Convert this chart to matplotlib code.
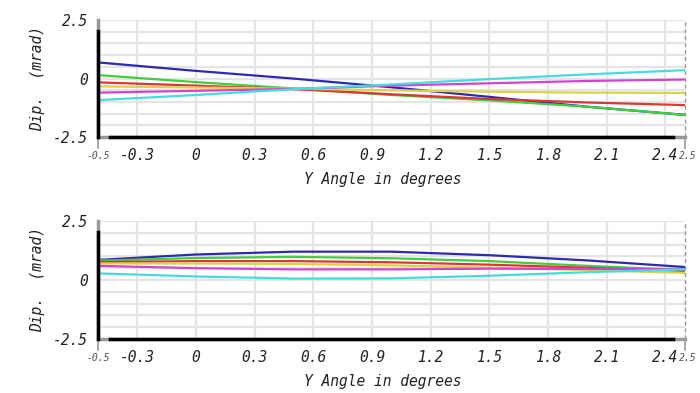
import matplotlib
matplotlib.use("Agg")
import matplotlib.pyplot as plt

x = [-0.5, 0.0, 0.5, 1.0, 1.5, 2.0, 2.5]

top_blue = [0.69, 0.33, 0.0, -0.37, -0.78, -1.2, -1.55]
top_green = [0.15, -0.15, -0.42, -0.7, -0.93, -1.2, -1.55]
top_red = [-0.16, -0.3, -0.45, -0.67, -0.87, -1.02, -1.13]
top_yellow = [-0.33, -0.38, -0.43, -0.5, -0.56, -0.6, -0.61]
top_magenta = [-0.6, -0.52, -0.44, -0.3, -0.2, -0.1, -0.04]
top_cyan = [-0.92, -0.7, -0.45, -0.25, -0.02, 0.18, 0.36]

bot_blue = [0.85, 1.08, 1.2, 1.2, 1.05, 0.83, 0.55]
bot_green = [0.82, 0.93, 0.98, 0.92, 0.8, 0.6, 0.42]
bot_red = [0.76, 0.8, 0.8, 0.75, 0.65, 0.52, 0.38]
bot_yellow = [0.7, 0.7, 0.68, 0.62, 0.52, 0.42, 0.3]
bot_magenta = [0.6, 0.5, 0.45, 0.45, 0.48, 0.47, 0.45]
bot_cyan = [0.28, 0.15, 0.06, 0.07, 0.18, 0.33, 0.45]

xticks = [-0.3, 0, 0.3, 0.6, 0.9, 1.2, 1.5, 1.8, 2.1, 2.4]
xtick_labels = ["-0.3", "0", "0.3", "0.6", "0.9", "1.2", "1.5", "1.8", "2.1", "2.4"]
yticks = [-2.5, 0, 2.5]
ytick_labels = ["-2.5", "0", "2.5"]
xlim = (-0.5, 2.5)
ylim = (-2.5, 2.5)

colors = ["#2b2bb0", "#3fcf3f", "#dd3535", "#d9d24a", "#d045d0", "#45dcdc"]
font = "DejaVu Sans Mono"

fig = plt.figure(figsize=(7.0, 3.93), dpi=100)
ax1 = fig.add_axes([0.14, 0.651, 0.8386, 0.298])
ax2 = fig.add_axes([0.14, 0.1374, 0.8386, 0.3003])

def style(ax, series):
    ax.set_xlim(*xlim)
    ax.set_ylim(*ylim)
    # grid
    for gx in xticks:
        ax.axvline(gx, color="#e4e4e4", lw=1.6, zorder=0)
    gy = -2.5
    while gy <= 2.5 + 1e-9:
        ax.axhline(gy, color="#e4e4e4", lw=1.6, zorder=0)
        gy += 0.5
    for s, c in zip(series, colors):
        ax.plot(x, s, color=c, lw=1.6, zorder=3)
    ax.set_xticks(xticks)
    ax.set_xticklabels(xtick_labels, fontfamily=font, fontstyle="oblique", fontsize=10.5, color="#222222")
    ax.set_yticks(yticks)
    ax.set_yticklabels(ytick_labels, fontfamily=font, fontstyle="oblique", fontsize=10.5, color="#222222")
    ax.tick_params(axis="x", length=0, pad=8)
    ax.tick_params(axis="y", length=0, pad=7)
    for sp in ["top", "right"]:
        ax.spines[sp].set_visible(False)
    ax.spines["left"].set_color("#999999")
    ax.spines["left"].set_linewidth(2.5)
    ax.spines["bottom"].set_color("#999999")
    ax.spines["bottom"].set_linewidth(2.5)
    # darker portions of the frame
    ax.plot([0, 0], [0, 0.91], transform=ax.transAxes, color="black", lw=2.5, clip_on=False, zorder=5)
    ax.plot([0.02, 0.98], [0, 0], transform=ax.transAxes, color="black", lw=2.5, clip_on=False, zorder=5)
    ax.plot([1, 1], [0, 1], transform=ax.transAxes, color="#999999", lw=1.0, ls=(0, (3, 2)), clip_on=False, zorder=5)
    ax.plot([0, 0], [0, -0.09], transform=ax.transAxes, color="#999999", lw=1.2, clip_on=False)
    ax.plot([1, 1], [0, -0.09], transform=ax.transAxes, color="#999999", lw=1.2, clip_on=False)
    ax.text(0, -0.12, "-0.5", transform=ax.transAxes, ha="center", va="top",
            fontfamily=font, fontstyle="oblique", fontsize=7, color="#555555")
    ax.text(1.005, -0.12, "2.5", transform=ax.transAxes, ha="center", va="top",
            fontfamily=font, fontstyle="oblique", fontsize=7, color="#555555")
    ax.set_xlabel("Y Angle in degrees", fontfamily=font, fontstyle="oblique", fontsize=10.5,
                  color="#222222", labelpad=4)
    ax.xaxis.set_label_coords(0.485, -0.3)
    ax.set_ylabel("Dip.  (mrad)", fontfamily=font, fontstyle="oblique", fontsize=10.5,
                  color="#222222")
    ax.yaxis.set_label_coords(-0.09, 0.5)

style(ax1, [top_blue, top_green, top_red, top_yellow, top_magenta, top_cyan])
style(ax2, [bot_blue, bot_green, bot_red, bot_yellow, bot_magenta, bot_cyan])

fig.savefig("out.png", dpi=100, facecolor="white")
